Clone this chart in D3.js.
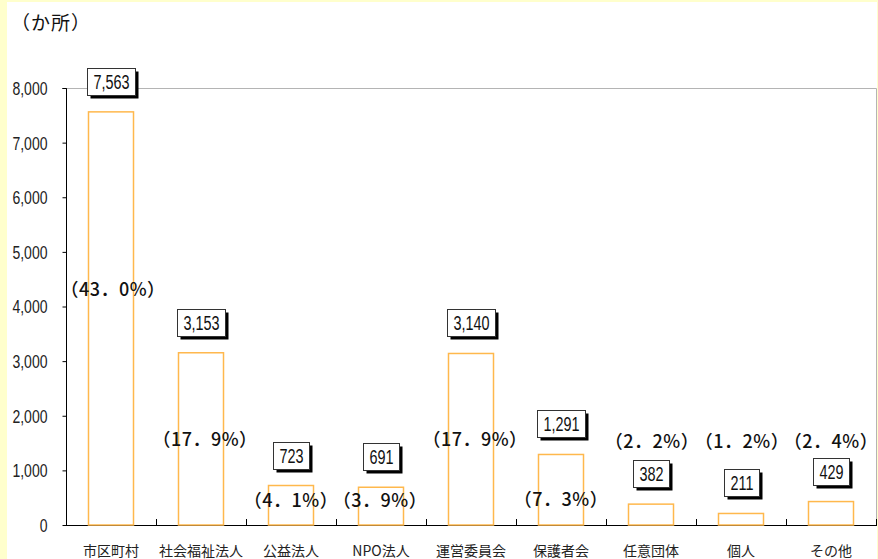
<!DOCTYPE html>
<html><head><meta charset="utf-8">
<script src="https://cdn.jsdelivr.net/npm/d3@7"></script>
<style>
html,body{margin:0;padding:0;background:#FFFFCC;}
svg{display:block;}
</style></head>
<body>
<svg id="chart" width="878" height="559"></svg>
<script>
// ---- data ----
const categories = ["市区町村","社会福祉法人","公益法人","NPO法人","運営委員会","保護者会","任意団体","個人","その他"];
const counts = [7563,3153,723,691,3140,1291,382,211,429];
const shares = [43.0,17.9,4.1,3.9,17.9,7.3,2.2,1.2,2.4];
const yTicks = [0,1000,2000,3000,4000,5000,6000,7000,8000];
const unitLabel = "（か所）";

// ---- layout ----
const W = 878, H = 559;
const plot = {left:66, right:876, top:88, bottom:525};
const shareAnchor = [4320,1580,450,450,1580,480,1545,1545,1545];
const shareNudge = [2,4,0,-1,4,0,1,1,0];
const narrowFont = "'Liberation Sans',Arial,sans-serif";
const narrow = 0.78;
const boxNarrow = 0.74;

const svg = d3.select("#chart");
svg.append("rect").attr("width",W).attr("height",H).attr("fill","#FFFFCC");
svg.append("rect").attr("x",7).attr("y",2).attr("width",870).attr("height",H-2).attr("fill","#ffffff");

const x = d3.scaleBand().domain(categories).range([plot.left,plot.right]).paddingInner(0.5).paddingOuter(0.25);
const y = d3.scaleLinear().domain([0,8000]).range([plot.bottom,plot.top]);

// plot area border (top/right)
svg.append("path")
  .attr("d",`M${plot.left},${y(8000)+0.5}H${plot.right+0.5}V${plot.bottom}`)
  .attr("fill","none").attr("stroke","#b4b4b4").attr("stroke-width",1);

// unit label
svg.append("text").attr("x",11).attr("y",30)
  .attr("font-family","'Noto Sans CJK JP'").attr("font-size",19).attr("fill","#111")
  .attr("letter-spacing",1)
  .text(unitLabel);

// y axis
const yAxis = d3.axisLeft(y).tickValues(yTicks).tickSize(4).tickPadding(0).tickFormat(d3.format(","));
const gy = svg.append("g").attr("transform",`translate(${plot.left+0.5},0)`).call(yAxis);
gy.select(".domain").attr("stroke","#000").attr("d",`M-4,${y(8000)+0.5}H0V${plot.bottom}`);
gy.selectAll(".tick line").attr("stroke","#000");
gy.selectAll(".tick text")
  .attr("x",0).attr("dy","0.36em")
  .attr("transform",`translate(-19,0) scale(${narrow},1)`)
  .attr("font-family",narrowFont).attr("font-size",18).attr("fill","#222");

// x axis line + inner ticks at band boundaries
const gx = svg.append("g");
gx.append("line").attr("x1",plot.left).attr("x2",plot.right+1).attr("y1",plot.bottom+0.5).attr("y2",plot.bottom+0.5)
  .attr("stroke","#000").attr("stroke-width",1.2);
const step = x.step();
const bounds = categories.map((c,i)=> x(c) + x.bandwidth()/2 + step/2);
gx.selectAll("line.bt").data(bounds).enter().append("line").attr("class","bt")
  .attr("x1",d=>Math.round(d)+0.5).attr("x2",d=>Math.round(d)+0.5)
  .attr("y1",plot.bottom-6).attr("y2",plot.bottom).attr("stroke","#000");
gx.selectAll("text").data(categories).enter().append("text")
  .attr("x",d=>x(d)+x.bandwidth()/2).attr("y",556).attr("text-anchor","middle")
  .attr("font-family","'Noto Sans CJK JP'").attr("font-size",14).attr("fill","#222")
  .text(d=>d);

// bars
svg.append("g").selectAll("rect").data(counts).enter().append("rect")
  .attr("x",(d,i)=>x(categories[i]))
  .attr("y",d=>y(d))
  .attr("width",x.bandwidth())
  .attr("height",d=>plot.bottom-y(d))
  .attr("fill","#ffffff").attr("stroke","#FFB84D").attr("stroke-width",1.5);

// value boxes
const fmt = d3.format(",");
const boxes = svg.append("g").selectAll("g").data(counts).enter().append("g");
boxes.each(function(d,i){
  const g = d3.select(this);
  const cx = x(categories[i]) + x.bandwidth()/2;
  const t = g.append("text").attr("text-anchor","middle")
    .attr("font-family",narrowFont)
    .attr("font-size",19.5).attr("fill","#111").text(fmt(d));
  const tw = t.node().getComputedTextLength() * boxNarrow;
  const bw = Math.round(tw + 12), bh = 27;
  const bottom = Math.round(y(d) - 17);
  const left = Math.round(cx - bw/2);
  g.insert("rect","text").attr("x",left+3.5).attr("y",bottom-bh+3.5).attr("width",bw).attr("height",bh).attr("fill","#000");
  g.insert("rect","text").attr("x",left+0.5).attr("y",bottom-bh+0.5).attr("width",bw).attr("height",bh)
    .attr("fill","#fff").attr("stroke","#333").attr("stroke-width",1);
  t.attr("transform",`translate(${left+bw/2+0.5},${bottom-6.5}) scale(${boxNarrow},1)`);
});

// share labels
svg.append("g").selectAll("text").data(shares).enter().append("text")
  .attr("x",(d,i)=>x(categories[i]) + x.bandwidth()/2 + shareNudge[i])
  .attr("y",(d,i)=>y(shareAnchor[i]) + 7)
  .attr("text-anchor","middle")
  .attr("font-family","'Noto Sans CJK JP'").attr("font-size",18).attr("font-weight",500).attr("fill","#111")
  .attr("letter-spacing",0.5)
  .text(d=>"（" + d.toFixed(1).replace(".","．") + "%）");
</script>
</body></html>
